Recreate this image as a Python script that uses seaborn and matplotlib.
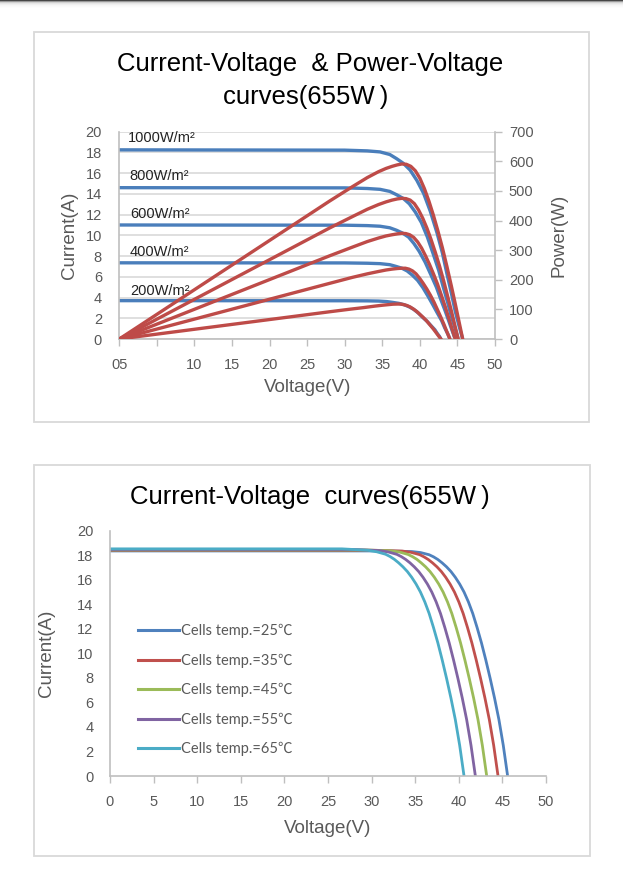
import matplotlib
matplotlib.use("Agg")
import matplotlib.pyplot as plt
import numpy as np
import pandas as pd
import seaborn as sns
from matplotlib.patches import Rectangle
from matplotlib.lines import Line2D

# ---- Top chart: I-V and P-V curves at different irradiance ----
irradiance = ["1000W/m²", "800W/m²", "600W/m²", "400W/m²", "200W/m²"]

iv_volt = [
    [0, 30, 33, 34.7, 36, 36.9, 37.8, 38.7, 39.6, 40.5, 41.4, 42.3, 43.0, 43.6, 44.2, 44.7, 45.2, 45.7],
    [0, 30, 33, 34.7, 36, 36.9, 37.8, 38.6, 39.4, 40.2, 41.0, 41.8, 42.5, 43.1, 43.7, 44.2, 44.7, 45.1],
    [0, 30, 33, 34.7, 36, 36.9, 37.7, 38.5, 39.2, 39.9, 40.7, 41.5, 42.2, 42.8, 43.4, 43.9, 44.3, 44.7],
    [0, 30, 33, 34.7, 36, 36.8, 37.6, 38.3, 39.0, 39.7, 40.4, 41.1, 41.7, 42.3, 42.9, 43.3, 43.7, 44.0],
    [0, 30, 33, 34.5, 35.6, 36.4, 37.2, 37.9, 38.6, 39.2, 39.8, 40.4, 41.0, 41.5, 42.0, 42.3, 42.6, 42.8],
]
iv_curr = [
    [18.25, 18.22, 18.15, 18.05, 17.8, 17.4, 16.95, 16.3, 15.3, 14.05, 12.3, 10.2, 8.3, 6.3, 4.4, 2.7, 1.3, 0],
    [14.6, 14.58, 14.52, 14.44, 14.24, 13.92, 13.56, 13.04, 12.24, 11.24, 9.84, 8.16, 6.64, 5.04, 3.52, 2.16, 1.0, 0],
    [11.0, 10.98, 10.94, 10.88, 10.73, 10.49, 10.22, 9.83, 9.22, 8.47, 7.42, 6.15, 5.0, 3.8, 2.65, 1.63, 0.8, 0],
    [7.35, 7.34, 7.31, 7.27, 7.17, 7.01, 6.83, 6.57, 6.16, 5.66, 4.96, 4.11, 3.34, 2.54, 1.77, 1.09, 0.52, 0],
    [3.7, 3.69, 3.68, 3.66, 3.61, 3.53, 3.44, 3.31, 3.1, 2.85, 2.5, 2.07, 1.68, 1.28, 0.89, 0.55, 0.26, 0],
]

pv_volt = [
    [0, 28, 31, 33, 34.5, 35.5, 36.3, 37.0, 37.6, 38.2, 38.8, 39.4, 40.0, 40.6, 41.2,
     41.8, 42.4, 43.0, 43.6, 44.2, 44.7, 45.2, 45.7],
    [0, 28, 31, 33, 34.5, 35.5, 36.3, 37.0, 37.6, 38.16, 38.71, 39.27, 39.82, 40.38, 40.93,
     41.49, 42.05, 42.6, 43.16, 43.71, 44.18, 44.64, 45.1],
    [0, 28, 31, 33, 34.5, 35.5, 36.3, 37.0, 37.6, 38.13, 38.65, 39.18, 39.7, 40.23, 40.75,
     41.28, 41.81, 42.34, 42.86, 43.39, 43.83, 44.26, 44.7],
    [0, 28, 31, 33, 34.5, 35.5, 36.3, 37.0, 37.6, 38.07, 38.55, 39.02, 39.49, 39.97, 40.44,
     40.92, 41.4, 41.87, 42.34, 42.82, 43.21, 43.6, 44.0],
    [0, 28, 30.5, 32.5, 34.0, 35.0, 35.8, 36.4, 37.0, 37.43, 37.86, 38.29, 38.72, 39.15, 39.58,
     40.01, 40.44, 40.87, 41.3, 41.73, 42.09, 42.44, 42.8],
]
pv_power = [
    [0, 466, 514, 545, 565, 576, 583, 588, 591, 590, 583, 568, 543, 508, 466, 418, 365, 308, 245, 178, 120, 60, 0],
    [0, 375, 413, 438, 454, 463, 469, 473, 475, 474, 469, 457, 436, 408, 375, 336, 293, 248, 197, 143, 96, 48, 0],
    [0, 281, 310, 329, 341, 348, 352, 355, 357, 356, 352, 343, 328, 307, 281, 252, 220, 186, 148, 108, 72, 36, 0],
    [0, 188, 208, 220, 228, 233, 236, 238, 239, 239, 236, 230, 220, 205, 188, 169, 148, 125, 99, 72, 49, 24, 0],
    [0, 92, 100, 106, 111, 114, 116, 117.5, 118, 118, 116, 113, 108, 101, 93, 83, 73, 62, 49, 36, 24, 12, 0],
]

# where the irradiance labels sit (voltage, current)
label_volt = [1.2, 1.4, 1.4, 1.4, 1.4]
label_curr = [19.4, 15.7, 12.05, 8.4, 4.6]

top_volt_ticks = list(range(0, 55, 5))
top_volt_labels = ["05", "", "10", "15", "20", "25", "30", "35", "40", "45", "50"]
curr_ticks = list(range(0, 22, 2))
power_ticks = list(range(0, 800, 100))

# ---- Bottom chart: I-V curves at different cell temperatures ----
cell_temps = ["Cells temp.=25℃", "Cells temp.=35℃", "Cells temp.=45℃",
              "Cells temp.=55℃", "Cells temp.=65℃"]
temp_volt = [
    [0, 31.6, 34.6, 35.6, 36.6, 37.1, 37.6, 38.1, 38.6, 39.1, 39.6, 40.1, 40.6, 41.1, 41.6,
     42.1, 42.6, 43.1, 43.6, 44.1, 44.6, 45.1, 45.6],
    [0, 30.5, 33.5, 34.5, 35.5, 36.0, 36.5, 37.0, 37.5, 38.0, 38.5, 39.0, 39.5, 40.0, 40.5,
     41.0, 41.5, 42.0, 42.5, 43.0, 43.5, 44.0, 44.5],
    [0, 29.2, 32.2, 33.2, 34.2, 34.7, 35.2, 35.7, 36.2, 36.7, 37.2, 37.7, 38.2, 38.7, 39.2,
     39.7, 40.2, 40.7, 41.2, 41.7, 42.2, 42.7, 43.2],
    [0, 27.9, 30.9, 31.9, 32.9, 33.4, 33.9, 34.4, 34.9, 35.4, 35.9, 36.4, 36.9, 37.4, 37.9,
     38.4, 38.9, 39.4, 39.9, 40.4, 40.9, 41.4, 41.9],
    [0, 26.6, 29.6, 30.6, 31.6, 32.1, 32.6, 33.1, 33.6, 34.1, 34.6, 35.1, 35.6, 36.1, 36.6,
     37.1, 37.6, 38.1, 38.6, 39.1, 39.6, 40.1, 40.6],
]
temp_curr = [
    [18.35, 18.35, 18.3, 18.22, 18.04, 17.87, 17.65, 17.37, 17.05, 16.67, 16.2, 15.65, 15.0,
     14.2, 13.25, 12.1, 10.85, 9.45, 7.95, 6.35, 4.6, 2.5, 0],
    [18.4, 18.4, 18.34, 18.24, 18.05, 17.87, 17.65, 17.37, 17.05, 16.67, 16.2, 15.65, 15.0,
     14.2, 13.25, 12.1, 10.85, 9.45, 7.95, 6.35, 4.6, 2.5, 0],
    [18.43, 18.43, 18.36, 18.26, 18.06, 17.88, 17.66, 17.37, 17.05, 16.67, 16.2, 15.65, 15.0,
     14.2, 13.25, 12.1, 10.85, 9.45, 7.95, 6.35, 4.6, 2.5, 0],
    [18.47, 18.47, 18.38, 18.27, 18.07, 17.89, 17.66, 17.38, 17.05, 16.67, 16.2, 15.65, 15.0,
     14.2, 13.25, 12.1, 10.85, 9.45, 7.95, 6.35, 4.6, 2.5, 0],
    [18.52, 18.52, 18.4, 18.28, 18.08, 17.9, 17.67, 17.38, 17.05, 16.67, 16.2, 15.65, 15.0,
     14.2, 13.25, 12.1, 10.85, 9.45, 7.95, 6.35, 4.6, 2.5, 0],
]
temp_colors = ["#4F81BD", "#C0504D", "#9BBB59", "#8064A2", "#4BACC6"]
bottom_volt_ticks = list(range(0, 55, 5))

BLUE = "#4A7EBB"
RED = "#BE4B48"
GRID = "#D9D9D9"
AXIS = "#BFBFBF"
TXT = "#595959"


def to_long(names, xs, ys, key, xname, yname):
    pieces = [pd.DataFrame({key: n, xname: xv, yname: yv}) for n, xv, yv in zip(names, xs, ys)]
    return pd.concat(pieces, ignore_index=True)


iv_df = to_long(irradiance, iv_volt, iv_curr, "irr", "voltage", "current")
pv_df = to_long(irradiance, pv_volt, pv_power, "irr", "voltage", "power")
temp_df = to_long(cell_temps, temp_volt, temp_curr, "temp", "voltage", "current")

plt.rcParams["font.family"] = ["Liberation Sans", "DejaVu Sans"]

W, H = 623, 880
fig = plt.figure(figsize=(W / 100, H / 100), dpi=100)
fig.patch.set_facecolor("white")


def px_rect(x0, y0, x1, y1):
    # pixel box (top-left origin) -> figure fractions
    return [x0 / W, 1 - y1 / H, (x1 - x0) / W, (y1 - y0) / H]


# page decorations: dark strip on top with soft shadow, panel frames
bar = fig.add_axes([0, 1 - 12 / H, 1, 12 / H])
shade = np.array([[0.28], [0.6], [0.82], [0.9], [0.94], [0.965], [0.98], [0.99], [1.0], [1.0], [1.0], [1.0]])
bar.imshow(shade, cmap="gray", vmin=0, vmax=1, aspect="auto", interpolation="bilinear")
bar.axis("off")

for box in [(34, 32, 589, 422), (34, 465, 590, 856)]:
    x0, y0, w, h = px_rect(*box)
    fig.add_artist(Rectangle((x0, y0), w, h, transform=fig.transFigure,
                             fill=False, edgecolor=GRID, lw=1.3))

# ---------------- top chart ----------------
ax = fig.add_axes(px_rect(119.3, 131.7, 495, 339))
sns.lineplot(data=iv_df, x="voltage", y="current", hue="irr", palette=[BLUE] * 5,
             estimator=None, sort=False, lw=2.4, legend=False, ax=ax)
ax.set_xlim(0, 50)
ax.set_ylim(0, 20)
ax.set_yticks(curr_ticks)
ax.set_xticks(top_volt_ticks)
ax.set_xticklabels(top_volt_labels)
ax.yaxis.grid(True, color=GRID, lw=1.2)
ax.set_axisbelow(True)
for s in ["top", "right"]:
    ax.spines[s].set_visible(False)
for s in ["left", "bottom"]:
    ax.spines[s].set_color(AXIS)
    ax.spines[s].set_linewidth(1.2)
ax.tick_params(axis="y", length=0, pad=12.5, labelsize=10.5, labelcolor=TXT)
ax.tick_params(axis="x", length=5, width=1, color=AXIS, pad=9, labelsize=10.5, labelcolor=TXT)
ax.set_xlabel("Voltage(V)", fontsize=13.5, color=TXT)
ax.set_ylabel("Current(A)", fontsize=13.5, color=TXT)
ax.xaxis.set_label_coords(0.5, -0.195)
ax.yaxis.set_label_coords(-0.111, 0.5)

for lab, lx, ly in zip(irradiance, label_volt, label_curr):
    ax.text(lx, ly, lab, fontsize=10.5, color="#222222", va="center", ha="left")

ax2 = ax.twinx()
sns.lineplot(data=pv_df, x="voltage", y="power", hue="irr", palette=[RED] * 5,
             estimator=None, sort=False, lw=2.4, legend=False, ax=ax2)
ax2.set_ylim(0, 700)
ax2.set_yticks(power_ticks)
for s in ["top", "left", "bottom"]:
    ax2.spines[s].set_visible(False)
ax2.spines["right"].set_color(AXIS)
ax2.spines["right"].set_linewidth(1.2)
ax2.tick_params(axis="y", length=5, width=1, color=AXIS, pad=5, labelsize=10.5, labelcolor=TXT)
ax2.set_ylabel("Power(W)", fontsize=13.5, color=TXT)
ax2.yaxis.set_label_coords(1.147, 0.5)

fig.text(310 / W, 1 - 64.5 / H, "Current-Voltage  & Power-Voltage", fontsize=18.5,
         ha="center", va="center", color="black")
fig.text(306 / W, 1 - 97 / H, "curves(655W\u2009)", fontsize=18.5,
         ha="center", va="center", color="black")

# ---------------- bottom chart ----------------
bx = fig.add_axes(px_rect(110, 530.7, 546, 776))
sns.lineplot(data=temp_df, x="voltage", y="current", hue="temp",
             palette=dict(zip(cell_temps, temp_colors)),
             estimator=None, sort=False, lw=2.0, ax=bx)
bx.set_xlim(0, 50)
bx.set_ylim(0, 20)
bx.set_xticks(bottom_volt_ticks)
bx.set_yticks(curr_ticks)
for s in ["top", "right"]:
    bx.spines[s].set_visible(False)
for s in ["left", "bottom"]:
    bx.spines[s].set_color(AXIS)
    bx.spines[s].set_linewidth(1.2)
bx.tick_params(axis="y", length=0, pad=12, labelsize=10.5, labelcolor=TXT)
bx.tick_params(axis="x", length=5, width=1, color=AXIS, pad=9, labelsize=10.5, labelcolor=TXT)
bx.set_xlabel("Voltage(V)", fontsize=13.5, color=TXT)
bx.set_ylabel("Current(A)", fontsize=13.5, color=TXT)
bx.xaxis.set_label_coords(0.5, -0.18)
bx.yaxis.set_label_coords(-0.127, 0.5)

handles = [Line2D([0], [0], color=c, lw=2.2) for c in temp_colors]
bx.legend(handles, cell_temps, loc="upper left", bbox_to_anchor=(0.064, 0.62),
          frameon=False, handlelength=2.8, handletextpad=0.15, labelspacing=1.05,
          borderaxespad=0, borderpad=0, labelcolor=TXT,
          prop=dict(family=["Lato", "Noto Sans CJK SC", "DejaVu Sans"], size=10.5))

fig.text(310 / W, 1 - 497 / H, "Current-Voltage  curves(655W\u2009)", fontsize=18.5,
         ha="center", va="center", color="black")

fig.savefig("out.png", dpi=100, facecolor="white")
